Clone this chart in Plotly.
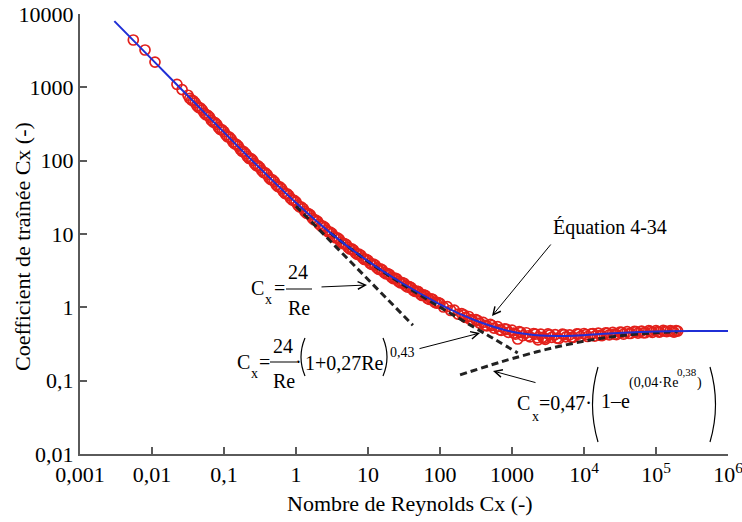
import plotly.graph_objects as go

# measured points (red circles)
re_data = [0.0055, 0.008, 0.011, 0.0222, 0.0262,
           0.0316, 0.0355, 0.0398, 0.0447, 0.0501, 0.0562, 0.0631, 0.0708, 0.0794, 0.0891,
           0.1, 0.112, 0.126, 0.141, 0.158, 0.178, 0.2, 0.224, 0.251, 0.282,
           0.316, 0.355, 0.398, 0.447, 0.501, 0.562, 0.631, 0.708, 0.794, 0.891,
           1.0, 1.12, 1.26, 1.41, 1.58, 1.78, 2.0, 2.24, 2.51, 2.82,
           3.16, 3.55, 3.98, 4.47, 5.01, 5.62, 6.31, 7.08, 7.94, 8.91,
           10, 11.2, 12.6, 14.1, 15.8, 17.8, 20, 22.4, 25.1, 28.2,
           31.6, 35.5, 39.8, 44.7, 50.1, 56.2, 63.1, 70.8, 79.4, 89.1,
           100, 112, 126, 141, 158, 178, 200, 224, 251, 282,
           316, 355, 398, 447, 501, 562, 631, 708, 794, 891,
           1000, 1120, 1260, 1410, 1580, 1780, 2000, 2240, 2510, 2820,
           3160, 3550, 3980, 4470, 5010, 5620, 6310, 7080, 7940, 8910,
           10000, 11200, 12600, 14100, 15800, 17800, 20000, 22400, 25100, 28200,
           31600, 35500, 39800, 44700, 50100, 56200, 63100, 70800, 79400, 89100,
           100000, 112000, 126000, 141000, 158000, 178000, 200000,
           215, 265, 335, 420, 530, 670, 840, 1060, 1200, 1330, 1680, 2110, 2300,
           2660, 2900, 3350, 4220, 5310, 6680, 8410,
           10600, 13300, 16800, 21100, 26600, 33500, 42200, 53100, 66800, 84100,
           106000, 133000, 168000, 190000,
           0.0335, 0.0376, 0.0422, 0.0473, 0.0531, 0.0596, 0.0668, 0.075, 0.0841, 0.0944,
           0.106, 0.119, 0.133, 0.149, 0.168, 0.188, 0.211, 0.237, 0.266, 0.298,
           0.335, 0.376, 0.422, 0.473, 0.531, 0.596, 0.668, 0.75, 0.841, 0.944,
           1.06, 1.19, 1.33, 1.49, 1.68, 1.88, 2.11, 2.37, 2.66, 2.98,
           3.35, 3.76, 4.22, 4.73, 5.31, 5.96, 6.68, 7.5, 8.41, 9.44,
           10.6, 11.9, 13.3, 14.9, 16.8, 18.8, 21.1, 23.7, 26.6, 29.8,
           33.5, 37.6, 42.2, 47.3, 53.1, 59.6, 66.8, 75.0, 84.1, 94.4]
cx_data = [4420, 3230, 2210, 1100, 930,
           780, 668, 615, 528, 490, 423, 392, 335, 312, 266,
           248, 212, 197, 169, 158, 134, 125, 107, 101, 85.5,
           80.5, 68.8, 64.5, 55.2, 51.8, 44.3, 41.6, 35.6, 33.7, 28.9,
           27.3, 23.4, 22.1, 19.1, 18.2, 15.6, 14.9, 12.8, 12.3, 10.6,
           10.2, 8.85, 8.52, 7.38, 7.15, 6.22, 6.04, 5.27, 5.13, 4.49,
           4.38, 3.84, 3.76, 3.30, 3.24, 2.85, 2.80, 2.47, 2.44, 2.15,
           2.13, 1.88, 1.86, 1.65, 1.64, 1.45, 1.44, 1.28, 1.28, 1.14,
           1.13, 1.01, 1.02, 0.905, 0.915, 0.81, 0.82, 0.73, 0.75, 0.665,
           0.68, 0.61, 0.625, 0.56, 0.585, 0.52, 0.545, 0.485, 0.51, 0.455,
           0.49, 0.43, 0.465, 0.41, 0.45, 0.395, 0.44, 0.385, 0.43, 0.38,
           0.435, 0.39, 0.425, 0.375, 0.43, 0.395, 0.42, 0.39, 0.435, 0.40,
           0.44, 0.40, 0.435, 0.405, 0.445, 0.41, 0.45, 0.42, 0.455, 0.425,
           0.46, 0.43, 0.465, 0.44, 0.47, 0.445, 0.475, 0.45, 0.48, 0.455,
           0.48, 0.46, 0.485, 0.465, 0.48, 0.46, 0.475,
           0.79, 0.68, 0.66, 0.57, 0.565, 0.495, 0.50, 0.445, 0.37, 0.455, 0.41, 0.43, 0.36,
           0.39, 0.365, 0.42, 0.38, 0.425, 0.39, 0.43,
           0.425, 0.44, 0.415, 0.445, 0.43, 0.455, 0.44, 0.465, 0.45, 0.47,
           0.465, 0.475, 0.47, 0.48,
           705, 655, 560, 522, 446, 415, 354, 331, 282, 263,
           225, 210, 179, 167, 143, 133, 114, 106.5, 91, 85,
           73, 68, 58.3, 54.6, 46.9, 44, 37.7, 35.4, 30.5, 28.7,
           24.8, 23.3, 20.2, 19.0, 16.5, 15.5, 13.5, 12.8, 11.2, 10.6,
           9.3, 8.83, 7.76, 7.41, 6.54, 6.25, 5.53, 5.3, 4.71, 4.52,
           4.02, 3.88, 3.45, 3.34, 2.98, 2.88, 2.58, 2.50, 2.25, 2.18,
           1.96, 1.91, 1.72, 1.67, 1.51, 1.48, 1.33, 1.31, 1.18, 1.16]

# Equation 4-34 (blue line)
re_fit = [0.003, 0.01, 0.03, 0.1, 0.3, 1, 3, 10, 30, 100, 141, 200, 300, 500, 708,
          1000, 1410, 2000, 3000, 5000, 7080, 1e4, 3e4, 1e5, 3e5, 1e6]
cx_fit = [8000, 2403, 803, 243, 82.7, 26.6, 10.35, 4.26, 2.13, 1.10, 0.932, 0.794, 0.671, 0.560, 0.506,
          0.466, 0.439, 0.421, 0.409, 0.407, 0.410, 0.417, 0.446, 0.470, 0.477, 0.475]

# asymptotes (dashed)
re_stokes = [1, 42]
cx_stokes = [24, 0.571]
re_sn = [3, 10, 30, 100, 300, 600, 1200]
cx_sn = [10.32, 4.21, 2.07, 1.006, 0.532, 0.3575, 0.239]
re_newton = [190, 500, 1000, 3000, 1e4, 3e4, 1e5, 2e5]
cx_newton = [0.12, 0.1626, 0.1994, 0.2668, 0.345, 0.407, 0.450, 0.462]

x_ticks = [0.001, 0.01, 0.1, 1, 10, 100, 1000, 1e4, 1e5, 1e6]
x_labels = ["0,001", "0,01", "0,1", "1", "10", "100", "1000", "10<sup>4</sup>", "10<sup>5</sup>", "10<sup>6</sup>"]
y_ticks = [0.01, 0.1, 1, 10, 100, 1000, 10000]
y_labels = ["0,01", "0,1", "1", "10", "100", "1000", "10000"]

FONT = "Liberation Serif, Times New Roman, serif"
AXIS = "#5a5a5a"
W, H = 742, 522
PX0, PX1, PY0, PY1 = 80, 728, 14, 454  # plot area in pixels
L, T, R, B = PX0, PY0, W - PX1, H - PY1


def px(x, y):
    # pixel position -> paper coordinates
    return (x - PX0) / (PX1 - PX0), (PY1 - y) / (PY1 - PY0)


def label(text, x, y, size, xanchor="center", angle=0):
    xp, yp = px(x, y)
    return dict(text=text, x=xp, y=yp, xref="paper", yref="paper", showarrow=False,
                xanchor=xanchor, yanchor="middle", textangle=angle, borderpad=0,
                font=dict(family=FONT, size=size, color="black"))


def arrow(tail, head):
    xp, yp = px(*head)
    return dict(text="", x=xp, y=yp, xref="paper", yref="paper", showarrow=True,
                ax=tail[0] - head[0], ay=tail[1] - head[1], axref="pixel", ayref="pixel",
                arrowhead=5, arrowsize=1.5, arrowwidth=1, arrowcolor="black", standoff=0)


def paren(x_end, x_mid, y0, y1):
    a = px(x_end, y0)
    m = px(x_mid, (y0 + y1) / 2)
    b = px(x_end, y1)
    return dict(type="path", xref="paper", yref="paper",
                path="M %f,%f Q %f,%f %f,%f" % (a[0], a[1], m[0], m[1], b[0], b[1]),
                line=dict(color="black", width=1.2))


def bar(x0, x1, y):
    a = px(x0, y)
    b = px(x1, y)
    return dict(type="line", xref="paper", yref="paper", x0=a[0], y0=a[1], x1=b[0], y1=b[1],
                line=dict(color="#555", width=1.5))


traces = [
    go.Scatter(x=re_data, y=cx_data, mode="markers",
               marker=dict(symbol="circle-open", size=10, color="#e3201b",
                           line=dict(width=1.7, color="#e3201b"))),
    go.Scatter(x=re_stokes, y=cx_stokes, mode="lines",
               line=dict(color="#222", width=3, dash="7px,4px")),
    go.Scatter(x=re_sn, y=cx_sn, mode="lines",
               line=dict(color="#222", width=3, dash="7px,4px", shape="spline")),
    go.Scatter(x=re_newton, y=cx_newton, mode="lines",
               line=dict(color="#222", width=3, dash="7px,4px", shape="spline")),
    go.Scatter(x=re_fit, y=cx_fit, mode="lines",
               line=dict(color="#1f2fd6", width=2, shape="spline")),
]

annotations = [
    label("Nombre de Reynolds Cx (-)", 410, 504, 22),
    label("Coefficient de traînée Cx (-)", 22, 247, 22, angle=-90),
    label("Équation 4-34", 610, 227, 20),
    # Cx = 24/Re
    label("C", 257, 288, 20), label("x", 268, 299, 14), label("=", 279, 288, 20),
    label("24", 298, 272, 20), label("Re", 299, 308, 20),
    # Cx = 24/Re (1+0,27Re)^0,43
    label("C", 243, 362, 20), label("x", 254, 373, 14), label("=", 264, 362, 20),
    label("24", 283, 346, 20), label("Re", 284, 381, 20), label("·", 298, 362, 20),
    label("1+0,27Re", 344, 363, 20), label("0,43", 402, 352, 14),
    # Cx = 0,47 (1 - e^(0,04 Re^0,38))
    label("C", 523, 403, 20), label("x", 535, 416, 14), label("=0,47·", 538, 403, 20, "left"),
    label("1–e", 600, 401, 20, "left"), label("(0,04·Re", 628, 383, 14, "left"),
    label("0,38", 676, 372, 11, "left"), label(")", 696, 383, 14, "left"),
    arrow((320, 287), (367, 285)),
    arrow((418, 349), (480, 333)),
    arrow((552, 243), (492, 316)),
    arrow((537, 383), (493, 371)),
]

shapes = [
    bar(286, 312, 289),
    bar(270, 297, 362),
    paren(305, 297, 338, 376), paren(383, 391, 338, 376),
    paren(598, 587, 367, 442), paren(710, 721, 367, 442),
]

fig = go.Figure(data=traces)
fig.update_layout(
    width=W, height=H, margin=dict(l=L, r=R, t=T, b=B, autoexpand=False),
    paper_bgcolor="white", plot_bgcolor="white", showlegend=False,
    font=dict(family=FONT, size=22, color="black"),
    annotations=annotations, shapes=shapes,
)
fig.update_xaxes(type="log", range=[-3, 6], tickvals=x_ticks, ticktext=x_labels,
                 showgrid=False, zeroline=False, showline=True, linecolor=AXIS, linewidth=2,
                 ticks="inside", ticklen=7, tickwidth=2, tickcolor=AXIS, automargin=False,
                 ticklabeloverflow="allow",
                 tickfont=dict(family=FONT, size=22, color="black"))
fig.update_yaxes(type="log", range=[-2, 4], tickvals=y_ticks, ticktext=y_labels,
                 showgrid=False, zeroline=False, showline=True, linecolor=AXIS, linewidth=2,
                 ticks="inside", ticklen=7, tickwidth=2, tickcolor=AXIS, automargin=False,
                 ticklabeloverflow="allow",
                 tickfont=dict(family=FONT, size=22, color="black"))

# drop the page's default body margin so the figure sits at the window corner
fig.write_html("out.html", config={"displayModeBar": False},
               post_script="document.body.style.margin = '0px';")
